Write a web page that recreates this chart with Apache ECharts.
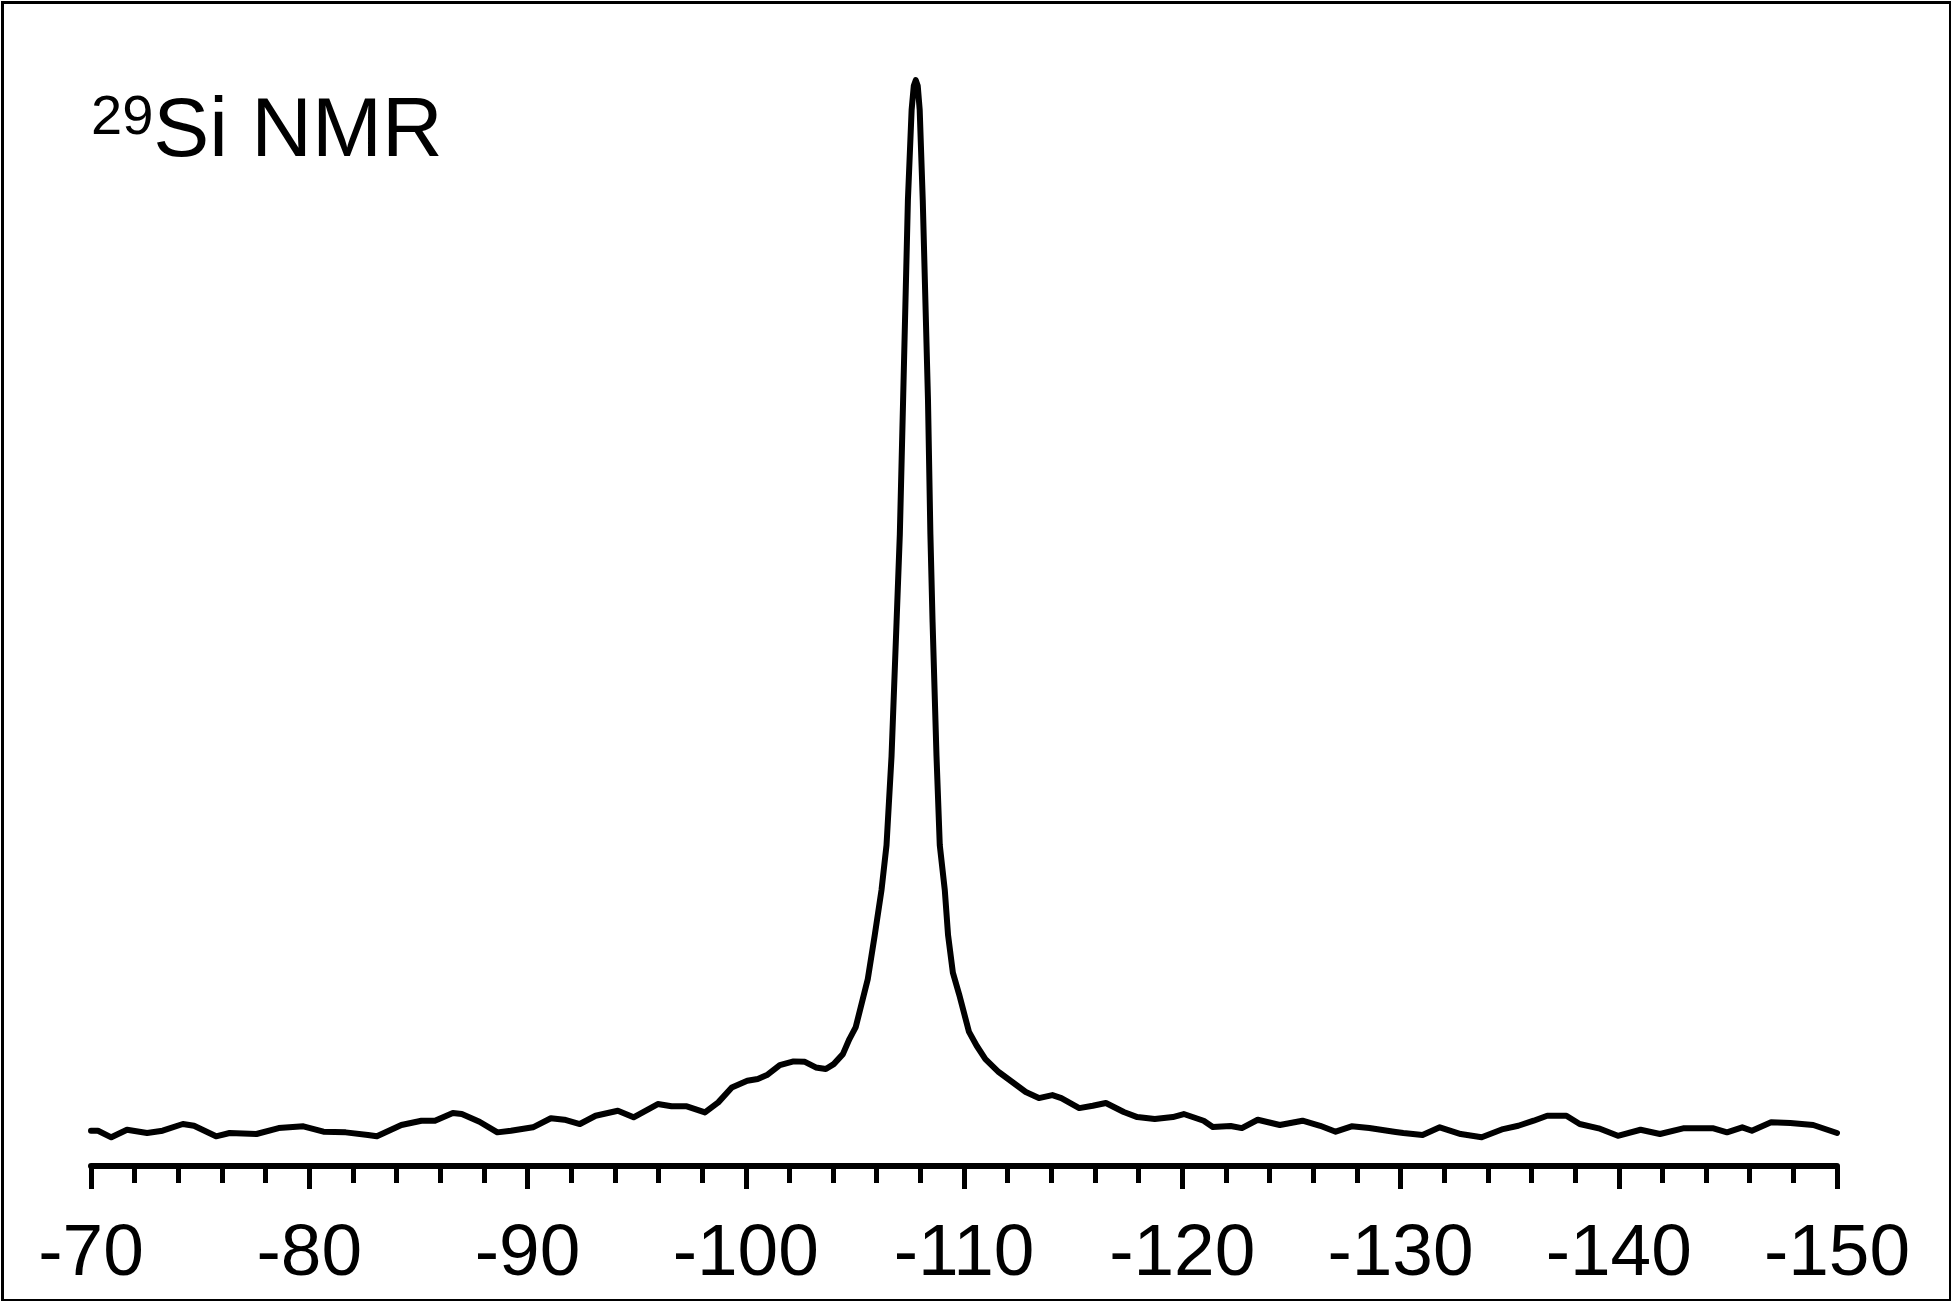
<!DOCTYPE html>
<html>
<head>
<meta charset="utf-8">
<script src="https://cdn.jsdelivr.net/npm/echarts@6/dist/echarts.min.js"></script>
<style>
html,body{margin:0;padding:0;background:#fff;}
#chart{width:1951px;height:1301px;}
</style>
</head>
<body>
<div id="chart"></div>
<script>
// Chemical shift (ppm) and intensity (arbitrary units, 0-100)
var shiftPpm = [
  -70.0, -70.32, -70.93, -71.65, -72.57, -73.28, -74.21, -74.72, -75.73, -76.35,
  -77.58, -78.60, -79.73, -80.65, -81.67, -82.69, -83.10, -84.22, -85.14, -85.76,
  -86.58, -86.99, -87.80, -88.62, -89.24, -90.25, -91.07, -91.69, -92.40, -93.12,
  -94.14, -94.86, -95.97, -96.60, -97.30, -98.13, -98.74, -99.36, -100.07, -100.55,
  -100.97, -101.56, -102.19, -102.71, -103.21, -103.67, -104.03, -104.45, -104.75, -105.04,
  -105.36, -105.59, -105.91, -106.22, -106.45, -106.68, -106.91, -107.06, -107.21, -107.43,
  -107.60, -107.70, -107.79, -107.88, -107.97, -108.11, -108.35, -108.46, -108.56, -108.74,
  -108.89, -109.12, -109.27, -109.49, -109.78, -110.23, -110.58, -110.98, -111.59, -112.21,
  -112.83, -113.43, -114.05, -114.46, -115.28, -115.90, -116.50, -117.32, -117.94, -118.74,
  -119.57, -120.07, -120.98, -121.40, -122.22, -122.73, -123.46, -124.47, -125.51, -126.32,
  -127.03, -127.76, -128.57, -129.78, -130.13, -131.01, -131.80, -132.76, -133.72, -134.70,
  -135.40, -136.10, -136.72, -137.60, -138.21, -139.08, -139.96, -141.00, -141.89, -142.95,
  -144.34, -144.96, -145.66, -146.10, -146.98, -147.86, -148.91, -150.0
];
var intensity = [
  3.21, 3.21, 2.61, 3.30, 3.00, 3.21, 3.82, 3.66, 2.70, 3.00,
  2.91, 3.45, 3.61, 3.12, 3.06, 2.82, 2.70, 3.73, 4.12, 4.12,
  4.82, 4.73, 4.03, 3.06, 3.21, 3.52, 4.34, 4.21, 3.82, 4.57,
  5.03, 4.43, 5.64, 5.43, 5.43, 4.88, 5.79, 7.15, 7.75, 7.91,
  8.27, 9.18, 9.52, 9.48, 8.97, 8.82, 9.27, 10.18, 11.55, 12.64,
  15.18, 17.0, 21.0, 25.1, 29.2, 37.3, 49.5, 57.5, 69.7, 87.9,
  96.1, 98.3, 98.8, 98.3, 96.1, 87.9, 69.7, 57.5, 49.5, 37.3,
  29.2, 25.1, 21.0, 17.6, 15.6, 12.2, 10.94, 9.73, 8.55, 7.64,
  6.73, 6.18, 6.45, 6.18, 5.27, 5.48, 5.73, 4.91, 4.45, 4.27,
  4.45, 4.73, 4.12, 3.55, 3.64, 3.45, 4.21, 3.73, 4.12, 3.66,
  3.12, 3.61, 3.45, 3.09, 3.00, 2.82, 3.52, 2.91, 2.61, 3.36,
  3.66, 4.12, 4.57, 4.57, 3.82, 3.43, 2.75, 3.30, 2.91, 3.43,
  3.43, 3.06, 3.52, 3.21, 3.97, 3.91, 3.73, 3.00
];
var xMin = -150, xMax = -70, xStep = 10;
var titleSup = '29';
var titleMain = 'Si NMR';

var seriesData = shiftPpm.map(function (s, i) { return [s, intensity[i]]; });

var chart = echarts.init(document.getElementById('chart'), null, {renderer: 'canvas'});
chart.setOption({
  animation: false,
  backgroundColor: '#ffffff',
  grid: {left: 91, right: 114, top: 67, bottom: 135, containLabel: false},
  xAxis: {
    type: 'value',
    min: xMin, max: xMax, interval: xStep, inverse: true,
    position: 'bottom',
    axisLine: {show: true, onZero: false, lineStyle: {color: '#000', width: 6}},
    axisTick: {show: true, inside: false, length: 23, lineStyle: {color: '#000', width: 5}},
    minorTick: {show: true, splitNumber: 5, length: 17, lineStyle: {color: '#000', width: 5}},
    axisLabel: {show: true, margin: 52, color: '#000', fontSize: 73,
      fontFamily: 'Liberation Sans, Arial, sans-serif', showMinLabel: true, showMaxLabel: true},
    splitLine: {show: false}
  },
  yAxis: {
    type: 'value', min: 0, max: 100, show: false, splitLine: {show: false}
  },
  graphic: [
    {type: 'rect', left: 0, top: 0, z: 100, silent: true,
      shape: {x: 1.5, y: 1.5, width: 1948, height: 1298},
      style: {fill: 'none', stroke: '#000', lineWidth: 3}},
    {type: 'text', left: 91, top: 91, z: 100,
      style: {
        text: '{sup|' + titleSup + '}{main|' + titleMain + '}',
        fill: '#000',
        rich: {
          sup: {fontSize: 56, lineHeight: 56, verticalAlign: 'top', fill: '#000',
            fontFamily: 'Liberation Sans, Arial, sans-serif'},
          main: {fontSize: 84, lineHeight: 84, verticalAlign: 'top', fill: '#000',
            fontFamily: 'Liberation Sans, Arial, sans-serif'}
        }
      }}
  ],
  series: [{
    type: 'line',
    data: seriesData,
    showSymbol: false,
    smooth: false,
    lineStyle: {color: '#000', width: 6, join: 'round', cap: 'round'},
    silent: true
  }]
});
</script>
</body>
</html>
